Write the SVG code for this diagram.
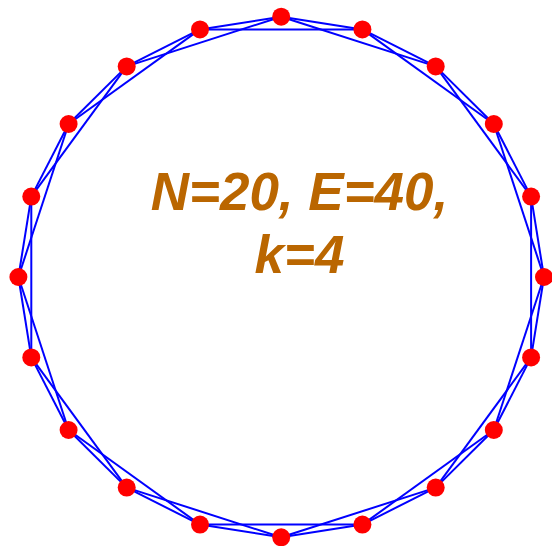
<svg xmlns="http://www.w3.org/2000/svg" width="552" height="546" viewBox="0 0 552 546">
<style>
.e{stroke:#0000FF;stroke-width:2;fill:none}
.n{fill:#FF0000}
.t{font-family:"Liberation Sans",Arial,sans-serif;font-weight:bold;font-style:italic;font-size:53px;fill:#BA6600;text-anchor:middle}
</style>
<rect width="552" height="546" fill="#FFFFFF"/>
<g id="connectors">
<line class="e" x1="281.2" y1="16.7" x2="362.4" y2="29.4"/>
<line class="e" x1="362.4" y1="29.4" x2="435.7" y2="66.4"/>
<line class="e" x1="435.7" y1="66.4" x2="493.8" y2="124"/>
<line class="e" x1="493.8" y1="124" x2="531.1" y2="196.6"/>
<line class="e" x1="531.1" y1="196.6" x2="544" y2="277"/>
<line class="e" x1="544" y1="277" x2="531.1" y2="357.4"/>
<line class="e" x1="531.1" y1="357.4" x2="493.8" y2="430"/>
<line class="e" x1="493.8" y1="430" x2="435.7" y2="487.6"/>
<line class="e" x1="435.7" y1="487.6" x2="362.4" y2="524.6"/>
<line class="e" x1="362.4" y1="524.6" x2="281.2" y2="537.3"/>
<line class="e" x1="281.2" y1="537.3" x2="200" y2="524.6"/>
<line class="e" x1="200" y1="524.6" x2="126.7" y2="487.6"/>
<line class="e" x1="126.7" y1="487.6" x2="68.6" y2="430"/>
<line class="e" x1="68.6" y1="430" x2="31.3" y2="357.4"/>
<line class="e" x1="31.3" y1="357.4" x2="18.4" y2="277"/>
<line class="e" x1="18.4" y1="277" x2="31.3" y2="196.6"/>
<line class="e" x1="31.3" y1="196.6" x2="68.6" y2="124"/>
<line class="e" x1="68.6" y1="124" x2="126.7" y2="66.4"/>
<line class="e" x1="126.7" y1="66.4" x2="200" y2="29.4"/>
<line class="e" x1="200" y1="29.4" x2="281.2" y2="16.7"/>
<line class="e" x1="281.2" y1="16.7" x2="435.7" y2="66.4"/>
<line class="e" x1="362.4" y1="29.4" x2="493.8" y2="124"/>
<line class="e" x1="435.7" y1="66.4" x2="531.1" y2="196.6"/>
<line class="e" x1="493.8" y1="124" x2="544" y2="277"/>
<line class="e" x1="531.1" y1="196.6" x2="531.1" y2="357.4"/>
<line class="e" x1="544" y1="277" x2="493.8" y2="430"/>
<line class="e" x1="531.1" y1="357.4" x2="435.7" y2="487.6"/>
<line class="e" x1="493.8" y1="430" x2="362.4" y2="524.6"/>
<line class="e" x1="435.7" y1="487.6" x2="281.2" y2="537.3"/>
<line class="e" x1="362.4" y1="524.6" x2="200" y2="524.6"/>
<line class="e" x1="281.2" y1="537.3" x2="126.7" y2="487.6"/>
<line class="e" x1="200" y1="524.6" x2="68.6" y2="430"/>
<line class="e" x1="126.7" y1="487.6" x2="31.3" y2="357.4"/>
<line class="e" x1="68.6" y1="430" x2="18.4" y2="277"/>
<line class="e" x1="31.3" y1="357.4" x2="31.3" y2="196.6"/>
<line class="e" x1="18.4" y1="277" x2="68.6" y2="124"/>
<line class="e" x1="31.3" y1="196.6" x2="126.7" y2="66.4"/>
<line class="e" x1="68.6" y1="124" x2="200" y2="29.4"/>
<line class="e" x1="126.7" y1="66.4" x2="281.2" y2="16.7"/>
<line class="e" x1="200" y1="29.4" x2="362.4" y2="29.4"/>
</g>
<g id="n0"><circle class="n" cx="281.2" cy="16.7" r="9"/></g>
<g id="n1"><circle class="n" cx="362.4" cy="29.4" r="9"/></g>
<g id="n2"><circle class="n" cx="435.7" cy="66.4" r="9"/></g>
<g id="n3"><circle class="n" cx="493.8" cy="124" r="9"/></g>
<g id="n4"><circle class="n" cx="531.1" cy="196.6" r="9"/></g>
<g id="n5"><circle class="n" cx="544" cy="277" r="9"/></g>
<g id="n6"><circle class="n" cx="531.1" cy="357.4" r="9"/></g>
<g id="n7"><circle class="n" cx="493.8" cy="430" r="9"/></g>
<g id="n8"><circle class="n" cx="435.7" cy="487.6" r="9"/></g>
<g id="n9"><circle class="n" cx="362.4" cy="524.6" r="9"/></g>
<g id="n10"><circle class="n" cx="281.2" cy="537.3" r="9"/></g>
<g id="n11"><circle class="n" cx="200" cy="524.6" r="9"/></g>
<g id="n12"><circle class="n" cx="126.7" cy="487.6" r="9"/></g>
<g id="n13"><circle class="n" cx="68.6" cy="430" r="9"/></g>
<g id="n14"><circle class="n" cx="31.3" cy="357.4" r="9"/></g>
<g id="n15"><circle class="n" cx="18.4" cy="277" r="9"/></g>
<g id="n16"><circle class="n" cx="31.3" cy="196.6" r="9"/></g>
<g id="n17"><circle class="n" cx="68.6" cy="124" r="9"/></g>
<g id="n18"><circle class="n" cx="126.7" cy="66.4" r="9"/></g>
<g id="n19"><circle class="n" cx="200" cy="29.4" r="9"/></g>
<g id="label">
<text class="t" x="299.5" y="210">N=20, E=40,</text>
<text class="t" x="299.5" y="273">k=4</text>
</g>
</svg>
